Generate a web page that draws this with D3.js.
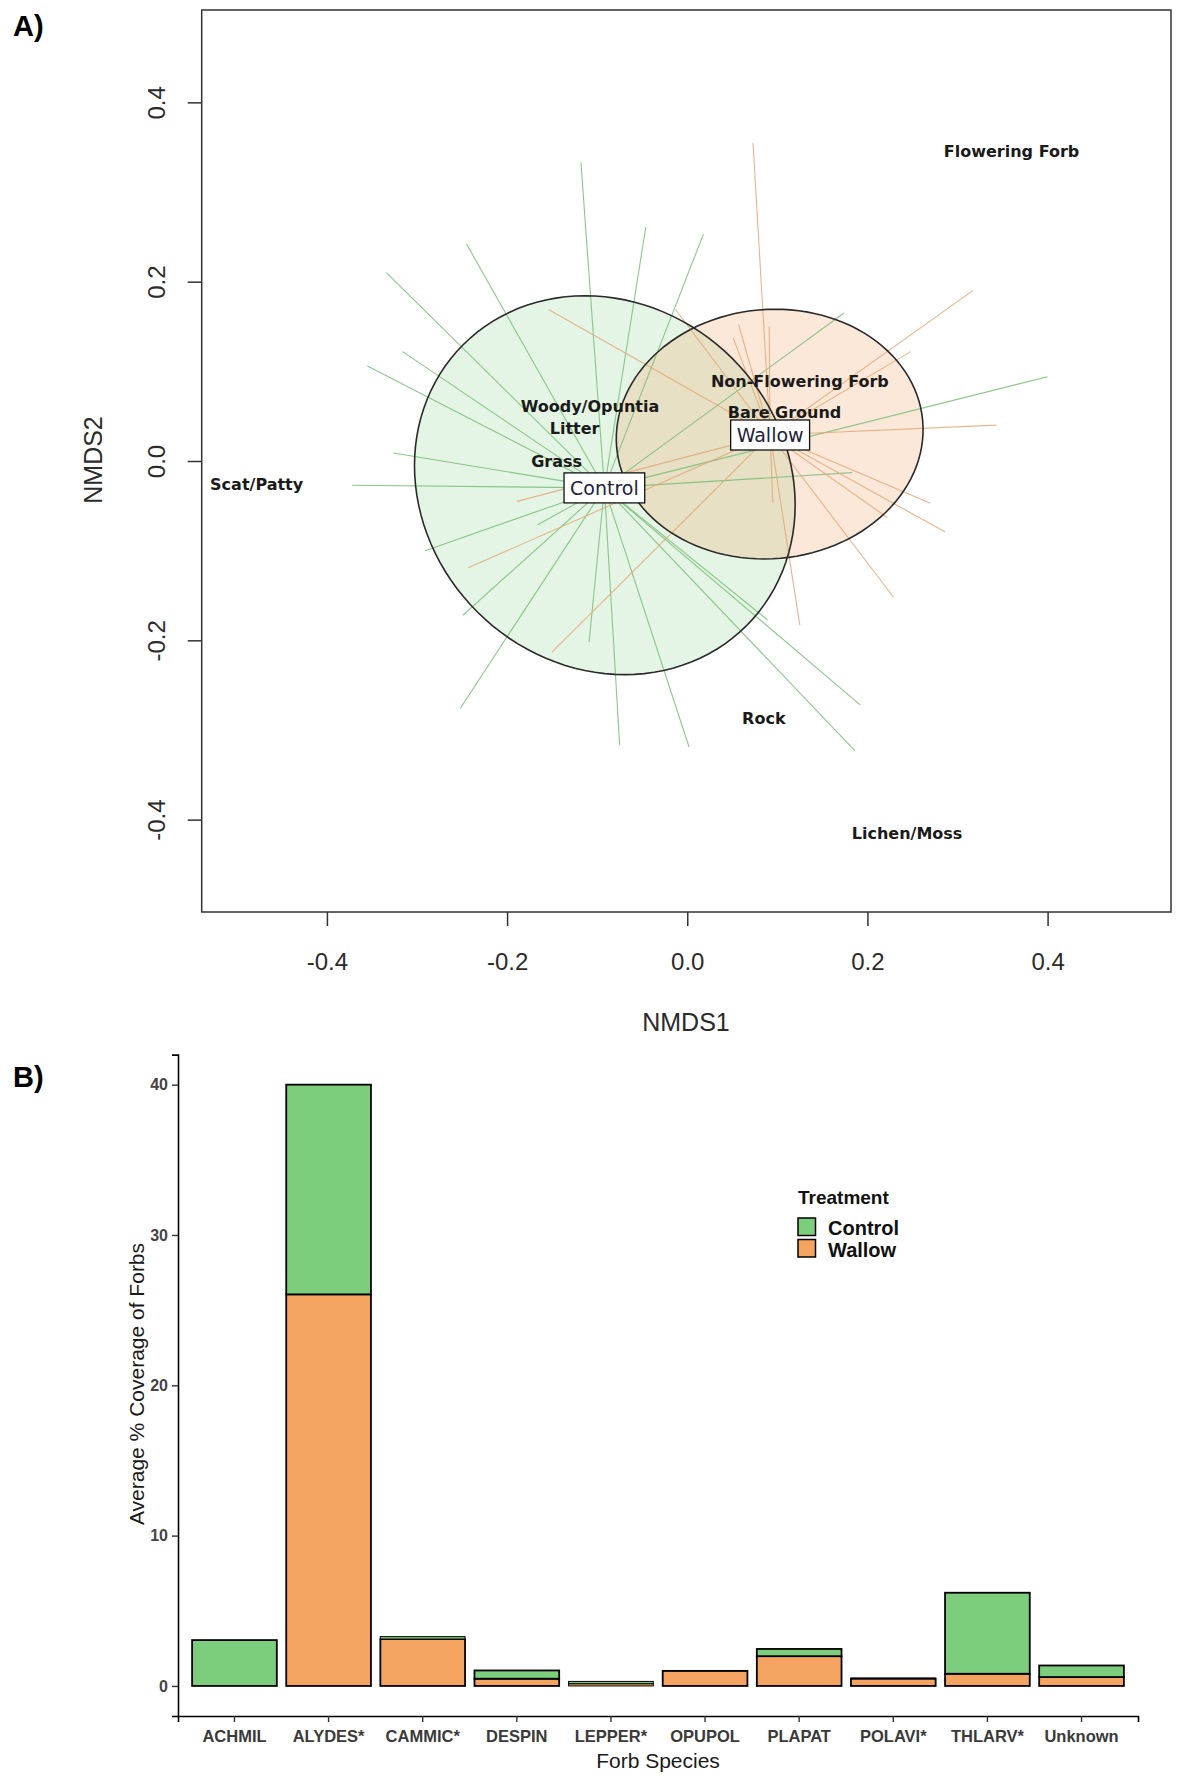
<!DOCTYPE html>
<html>
<head>
<meta charset="utf-8">
<script src="https://d3js.org/d3.v7.min.js"></script>
<style>
  body { margin: 0; background: #fff; }
  svg { display: block; }
</style>
</head>
<body>
<div id="chart"></div>
<script>
// ---- panel A: NMDS ordination ----
var nmdsTicks = [-0.4, -0.2, 0.0, 0.2, 0.4];

var groupNames = ["Control", "Wallow"];
var groupCentroids = [[-0.092, -0.030], [0.092, 0.029]];

// site scores (NMDS1, NMDS2)
var controlSites = [
    [-0.118, 0.333], [-0.046, 0.261], [0.018, 0.253], [-0.245, 0.242],
    [-0.334, 0.210], [-0.316, 0.122], [-0.355, 0.106], [-0.326, 0.009],
    [-0.372, -0.027], [-0.291, -0.100], [-0.166, -0.071], [-0.249, -0.172],
    [-0.252, -0.276], [-0.109, -0.202], [-0.075, -0.317], [0.002, -0.319],
    [0.089, -0.177], [0.192, -0.272], [0.186, -0.323], [0.183, -0.013],
    [0.174, 0.165], [0.400, 0.094]
];
var wallowSites = [
    [0.073, 0.355], [0.317, 0.190], [0.248, 0.122], [0.343, 0.040],
    [0.091, 0.150], [0.057, 0.152], [0.051, 0.137], [-0.154, 0.169],
    [-0.013, 0.169], [-0.189, -0.045], [-0.243, -0.119], [-0.150, -0.213],
    [0.270, -0.047], [0.286, -0.079], [0.229, -0.152], [0.125, -0.183],
    [0.095, -0.047], [0.222, -0.063]
];

// ellipse: centre x, centre y, semi-axis a, semi-axis b, angle (deg)
var ellipseControl = [-0.0915, -0.027, 0.222, 0.200, -45];
var ellipseWallow = [0.0915, 0.030, 0.1705, 0.139, 5];

var envNames = ["Flowering Forb", "Non-Flowering Forb", "Bare Ground", "Woody/Opuntia",
                "Litter", "Grass", "Scat/Patty", "Rock", "Lichen/Moss"];
var envX = [0.360, 0.125, 0.108, -0.108, -0.125, -0.145, -0.478, 0.085, 0.244];
var envY = [0.345, 0.0885, 0.054, 0.061, 0.036, 0.000, -0.026, -0.287, -0.415];

// ---- panel B: forb cover ----
var species = ["ACHMIL", "ALYDES*", "CAMMIC*", "DESPIN", "LEPPER*",
               "OPUPOL", "PLAPAT", "POLAVI*", "THLARV*", "Unknown"];
var wallowCover = [0, 26.05, 3.12, 0.48, 0.15, 1.0, 1.98, 0.48, 0.81, 0.59];
var controlCover = [3.05, 13.95, 0.16, 0.55, 0.15, 0.03, 0.48, 0.05, 5.39, 0.77];
var coverTicks = [0, 10, 20, 30, 40];

var W = 1181, H = 1778;
var svg = d3.select("#chart").append("svg")
    .attr("width", W)
    .attr("height", H);

var sansR = "'Liberation Sans', Arial, sans-serif";
var dejavu = "'DejaVu Sans', Verdana, sans-serif";

// ================= panel A =================
var x = d3.scaleLinear().domain([-0.539, 0.537]).range([201.7, 1171]);
var y = d3.scaleLinear().domain([-0.503, 0.503]).range([912, 10]);

var gA = svg.append("g");

function ellipsePath(e) {
    var th = e[4] * Math.PI / 180;
    var pts = d3.range(0, 361, 3).map(function (deg) {
        var t = deg * Math.PI / 180;
        var ex = e[2] * Math.cos(t), ey = e[3] * Math.sin(t);
        return [e[0] + ex * Math.cos(th) - ey * Math.sin(th),
                e[1] + ex * Math.sin(th) + ey * Math.cos(th)];
    });
    return d3.line().x(function (d) { return x(d[0]); })
                    .y(function (d) { return y(d[1]); })(pts) + "Z";
}

gA.append("path")
    .attr("d", ellipsePath(ellipseControl))
    .attr("fill", "rgb(124,205,124)")
    .attr("fill-opacity", 0.2)
    .attr("stroke", "none");
gA.append("path")
    .attr("d", ellipsePath(ellipseWallow))
    .attr("fill", "rgb(240,150,80)")
    .attr("fill-opacity", 0.22)
    .attr("stroke", "none");

// spiders
function drawSpider(sites, centroid, colour) {
    gA.selectAll(null)
        .data(sites)
        .enter().append("line")
        .attr("x1", x(centroid[0]))
        .attr("y1", y(centroid[1]))
        .attr("x2", function (d) { return x(d[0]); })
        .attr("y2", function (d) { return y(d[1]); })
        .attr("stroke", colour)
        .attr("stroke-width", 1.1)
        .attr("stroke-opacity", 0.85);
}
drawSpider(controlSites, groupCentroids[0], "#78bd78");
drawSpider(wallowSites, groupCentroids[1], "#e3a878");

// ellipse outlines
[ellipseControl, ellipseWallow].forEach(function (e) {
    gA.append("path")
        .attr("d", ellipsePath(e))
        .attr("fill", "none")
        .attr("stroke", "#2a2a2a")
        .attr("stroke-width", 1.6);
});

// environmental labels
gA.selectAll(null)
    .data(envNames)
    .enter().append("text")
    .attr("x", function (d, i) { return x(envX[i]); })
    .attr("y", function (d, i) { return y(envY[i]); })
    .attr("text-anchor", "middle")
    .attr("dominant-baseline", "central")
    .attr("font-family", dejavu)
    .attr("font-weight", "bold")
    .attr("font-size", "16px")
    .attr("fill", "#1a1a1a")
    .text(function (d) { return d; });

// centroid label boxes
groupNames.forEach(function (name, i) {
    var cx = x(groupCentroids[i][0]), cy = y(groupCentroids[i][1]);
    var g = gA.append("g");
    var rect = g.append("rect");
    var t = g.append("text")
        .attr("x", cx)
        .attr("y", cy)
        .attr("text-anchor", "middle")
        .attr("dominant-baseline", "central")
        .attr("font-family", dejavu)
        .attr("font-size", "19px")
        .attr("fill", "#22223a")
        .text(name);
    var bw = t.node().getComputedTextLength() + 12;
    rect.attr("x", cx - bw / 2)
        .attr("y", cy - 15)
        .attr("width", bw)
        .attr("height", 30)
        .attr("fill", "#fff")
        .attr("stroke", "#111")
        .attr("stroke-width", 1.3);
});

// frame
gA.append("rect")
    .attr("x", x.range()[0])
    .attr("y", y.range()[1])
    .attr("width", x.range()[1] - x.range()[0])
    .attr("height", y.range()[0] - y.range()[1])
    .attr("fill", "none")
    .attr("stroke", "#333")
    .attr("stroke-width", 1.5);

// axes (R style: ticks outside the box)
var xAxisA = d3.axisBottom(x).tickValues(nmdsTicks).tickSize(14).tickPadding(27)
    .tickFormat(d3.format(".1f"));
var yAxisA = d3.axisLeft(y).tickValues(nmdsTicks).tickSize(14).tickPadding(0)
    .tickFormat(d3.format(".1f"));

var gx = gA.append("g").attr("transform", "translate(0," + y.range()[0] + ")").call(xAxisA);
gx.select(".domain").remove();
gx.selectAll(".tick line").attr("stroke", "#333").attr("stroke-width", 1.5);
gx.selectAll(".tick text")
    .attr("font-family", sansR).attr("font-size", "24px").attr("fill", "#2b2b2b")
    .text(function (d) { return d3.format(".1f")(d).replace("−", "-"); });

var gy = gA.append("g").attr("transform", "translate(" + x.range()[0] + ",0)").call(yAxisA);
gy.select(".domain").remove();
gy.selectAll(".tick line").attr("stroke", "#333").attr("stroke-width", 1.5);
gy.selectAll(".tick text")
    .attr("x", 0).attr("dy", null)
    .attr("transform", "translate(-45.5,0) rotate(-90)")
    .attr("text-anchor", "middle")
    .attr("dominant-baseline", "central")
    .attr("font-family", sansR).attr("font-size", "24px").attr("fill", "#2b2b2b")
    .text(function (d) { return d3.format(".1f")(d).replace("−", "-"); });

gA.append("text")
    .attr("x", 686).attr("y", 1022)
    .attr("text-anchor", "middle").attr("dominant-baseline", "central")
    .attr("font-family", sansR).attr("font-size", "25px").attr("fill", "#2b2b2b")
    .text("NMDS1");
gA.append("text")
    .attr("transform", "translate(93,460) rotate(-90)")
    .attr("text-anchor", "middle").attr("dominant-baseline", "central")
    .attr("font-family", sansR).attr("font-size", "25px").attr("fill", "#2b2b2b")
    .text("NMDS2");

svg.append("text")
    .attr("x", 13).attr("y", 26)
    .attr("dominant-baseline", "central")
    .attr("font-family", sansR).attr("font-weight", "bold").attr("font-size", "29px")
    .text("A)");

// ================= panel B =================
var xb = d3.scaleBand().domain(species).range([178, 1138])
    .paddingInner(0.1).paddingOuter(0.15);
var yb = d3.scaleLinear().domain([-2, 42]).range([1716, 1054.6]);

var rows = species.map(function (s, i) {
    return { species: s, Wallow: wallowCover[i], Control: controlCover[i] };
});
var stacked = d3.stack().keys(["Wallow", "Control"])(rows);
var fills = { Control: "#7CCD7C", Wallow: "#F4A460" };

var gB = svg.append("g");
stacked.forEach(function (layer) {
    gB.selectAll(null)
        .data(layer)
        .enter().append("rect")
        .attr("x", function (d) { return xb(d.data.species); })
        .attr("width", xb.bandwidth())
        .attr("y", function (d) { return yb(d[1]); })
        .attr("height", function (d) { return yb(d[0]) - yb(d[1]); })
        .attr("fill", fills[layer.key])
        .attr("stroke", "#000")
        .attr("stroke-width", function (d) { return (d[1] - d[0]) < 0.2 ? 1 : 1.8; });
});

var xAxisB = d3.axisBottom(xb).tickSize(6).tickPadding(8);
var gxb = gB.append("g").attr("transform", "translate(0,1716)").call(xAxisB);
gxb.select(".domain").attr("stroke", "#000").attr("stroke-width", 1.6);
gxb.selectAll(".tick line").attr("stroke", "#333").attr("stroke-width", 1.4);
gxb.selectAll(".tick text")
    .attr("y", 20).attr("dy", null).attr("dominant-baseline", "central")
    .attr("font-family", sansR).attr("font-weight", "bold").attr("font-size", "16.5px")
    .attr("fill", "#3a3a3a");

var yAxisB = d3.axisLeft(yb).tickValues(coverTicks).tickSize(6).tickPadding(4);
var gyb = gB.append("g").attr("transform", "translate(178,0)").call(yAxisB);
gyb.select(".domain").attr("stroke", "#000").attr("stroke-width", 1.6);
gyb.selectAll(".tick line").attr("stroke", "#333").attr("stroke-width", 1.4);
gyb.selectAll(".tick text")
    .attr("font-family", sansR).attr("font-weight", "bold").attr("font-size", "16px")
    .attr("fill", "#444");

gB.append("text")
    .attr("x", 658).attr("y", 1760)
    .attr("text-anchor", "middle").attr("dominant-baseline", "central")
    .attr("font-family", sansR).attr("font-size", "21px").attr("fill", "#1a1a1a")
    .text("Forb Species");
gB.append("text")
    .attr("transform", "translate(136,1384) rotate(-90)")
    .attr("text-anchor", "middle").attr("dominant-baseline", "central")
    .attr("font-family", sansR).attr("font-size", "21px").attr("fill", "#1a1a1a")
    .text("Average % Coverage of Forbs");

// legend
var legend = gB.append("g");
legend.append("text")
    .attr("x", 798).attr("y", 1197)
    .attr("dominant-baseline", "central")
    .attr("font-family", sansR).attr("font-weight", "bold").attr("font-size", "19px")
    .attr("fill", "#111")
    .text("Treatment");
groupNames.forEach(function (name, i) {
    legend.append("rect")
        .attr("x", 798).attr("y", 1218 + i * 21.5)
        .attr("width", 17.5).attr("height", 17.5)
        .attr("fill", fills[name])
        .attr("stroke", "#000").attr("stroke-width", 1.5);
    legend.append("text")
        .attr("x", 828).attr("y", 1228 + i * 21.5)
        .attr("dominant-baseline", "central")
        .attr("font-family", sansR).attr("font-weight", "bold").attr("font-size", "20px")
        .attr("fill", "#111")
        .text(name);
});

svg.append("text")
    .attr("x", 13).attr("y", 1077)
    .attr("dominant-baseline", "central")
    .attr("font-family", sansR).attr("font-weight", "bold").attr("font-size", "29px")
    .text("B)");
</script>
</body>
</html>
